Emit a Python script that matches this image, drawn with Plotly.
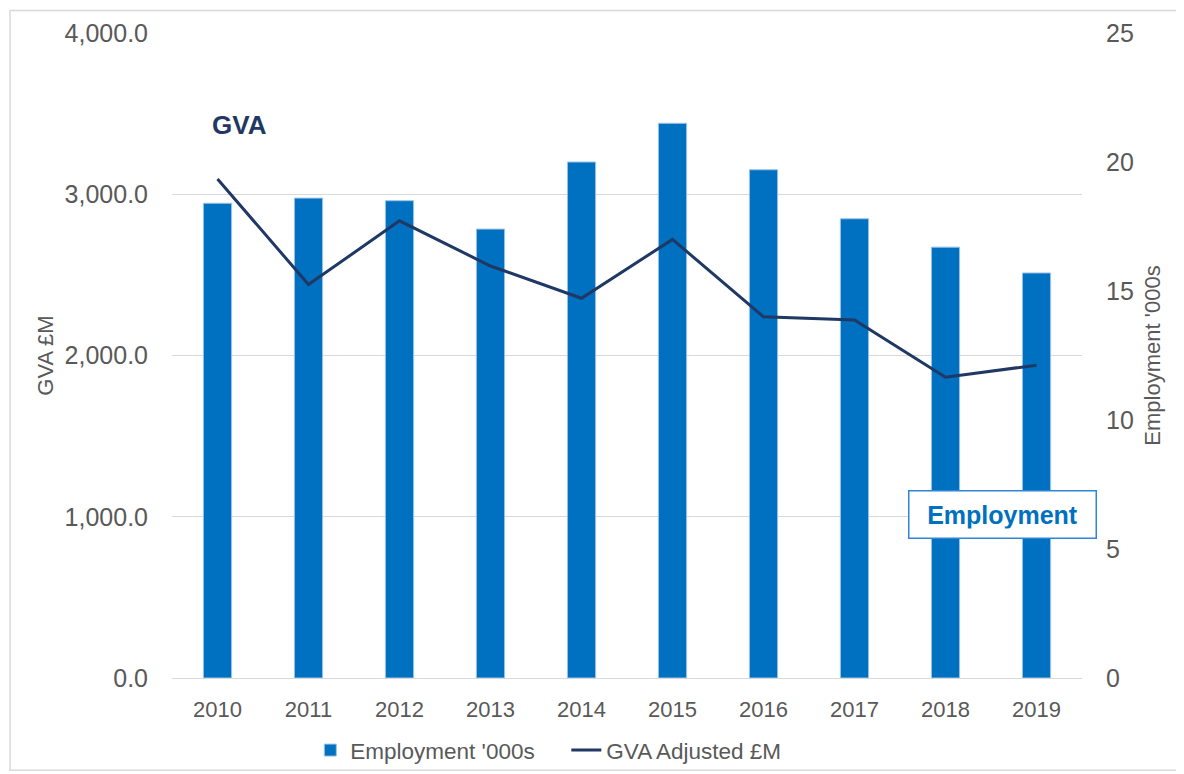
import plotly.graph_objects as go

years = ["2010", "2011", "2012", "2013", "2014", "2015", "2016", "2017", "2018", "2019"]
employment = [18.4, 18.6, 18.5, 17.4, 20.0, 21.5, 19.7, 17.8, 16.7, 15.7]
gva = [3095, 2440, 2835, 2555, 2355, 2720, 2240, 2220, 1865, 1940]

font = "Liberation Sans, Arial, sans-serif"
grey = "#595959"

fig = go.Figure()
# bars go on the primary axis (drawn right), line on the overlay so it sits on top
fig.add_trace(go.Bar(x=years, y=employment, name="Employment '000s", yaxis="y",
                     marker=dict(color="#0070C0", line=dict(color="#9DC3E6", width=1))))
fig.add_trace(go.Scatter(x=years, y=gva, name="GVA Adjusted £M", mode="lines", yaxis="y2",
                         line=dict(color="#1F3864", width=3)))

# page body has an 8px margin, so shift margins to compensate
fig.update_layout(
    width=1184, height=780,
    margin=dict(l=164, r=110, t=25, b=110),
    plot_bgcolor="white", paper_bgcolor="white",
    font=dict(family=font, size=22, color=grey),
    bargap=0.69,
    xaxis=dict(showgrid=False, showline=True, linecolor="#d9d9d9", linewidth=1,
               ticks="", tickfont=dict(size=22, color=grey), ticklabelstandoff=12),
    yaxis=dict(range=[0, 25], dtick=5, side="right", showgrid=False,
               zeroline=False, ticks="", tickfont=dict(size=25, color=grey),
               ticklabelstandoff=23,
               title=dict(text="Employment '000s", font=dict(size=22, color=grey), standoff=11)),
    yaxis2=dict(range=[0, 4000], dtick=1000, tickformat=",.1f", overlaying="y", side="left",
                showgrid=True, gridcolor="#d9d9d9", zeroline=False, ticks="",
                tickfont=dict(size=25, color=grey), ticklabelstandoff=23,
                title=dict(text="GVA £M", font=dict(size=22, color=grey), standoff=4)),
    legend=dict(orientation="h", x=0.152, xanchor="left", y=-0.079, yanchor="top",
                bgcolor="rgba(0,0,0,0)",
                font=dict(size=22.5, color=grey), traceorder="normal", entrywidth=211),
    showlegend=True,
)

fig.add_annotation(x=0.0747, y=0.857, xref="paper", yref="paper", text="<b>GVA</b>",
                   xanchor="center", yanchor="middle",
                   showarrow=False, font=dict(size=26, color="#1F3864"))
fig.add_annotation(x=0.913, y=0.254, xref="paper", yref="paper", text="<b>Employment</b>",
                   xanchor="center", yanchor="middle",
                   showarrow=False, font=dict(size=25, color="#0070C0"),
                   bordercolor="#2E86D4", borderwidth=1.5, bgcolor="white",
                   borderpad=9, width=168)

# outer chart border
fig.add_shape(type="rect", xref="paper", yref="paper",
              x0=-0.178, x1=1.108, y0=-0.143, y1=1.035,
              line=dict(color="#d9d9d9", width=1.5))

fig.write_html("out.html")
